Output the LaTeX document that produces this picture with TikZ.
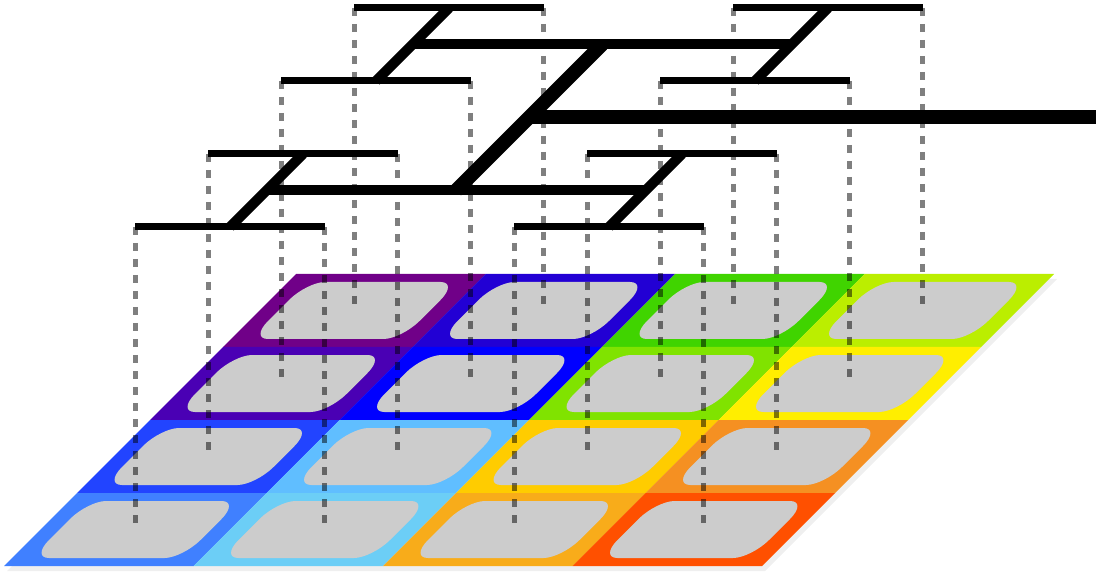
\documentclass[tikz,border=0pt]{standalone}
\usetikzlibrary{calc}
\definecolor{k00}{HTML}{700088}
\definecolor{k01}{HTML}{2200D4}
\definecolor{k02}{HTML}{40D400}
\definecolor{k03}{HTML}{BBEE00}
\definecolor{k10}{HTML}{4A00B4}
\definecolor{k11}{HTML}{0000FF}
\definecolor{k12}{HTML}{80E300}
\definecolor{k13}{HTML}{FFEE00}
\definecolor{k20}{HTML}{2244FF}
\definecolor{k21}{HTML}{60BEFF}
\definecolor{k22}{HTML}{FFCC00}
\definecolor{k23}{HTML}{F59022}
\definecolor{k30}{HTML}{4080FF}
\definecolor{k31}{HTML}{6CCEF6}
\definecolor{k32}{HTML}{F8AC1A}
\definecolor{k33}{HTML}{FF5000}
\definecolor{padgrey}{HTML}{CCCCCC}
\definecolor{shadowgrey}{HTML}{EFEFEF}
\begin{document}
\begin{tikzpicture}[x=1pt,y=-1pt,
  leafbar/.style={line width=7pt,line cap=butt},
  midbar/.style={line width=10pt,line cap=butt},
  rootbar/.style={line width=14pt,line cap=butt},
  guide/.style={draw=black,opacity=0.5,line width=5pt,dash pattern=on 8pt off 8pt},
  pad/.style={fill=padgrey,rounded corners=18pt}]
\useasboundingbox (0,0) rectangle (1096,572);
\coordinate (edge) at (1096,0);
% shadow
\begin{scope}[shift={(573,5)},xslant=1]
  \fill[shadowgrey] (0,274) -- (758,274) -- (758,566) -- (0,566) -- cycle;
\end{scope}
% cells
\begin{scope}[shift={(570,0)},xslant=1]
  \foreach \r in {0,...,3}{
    \foreach \c in {0,...,3}{
      \pgfmathsetmacro{\ua}{189.5*\c}
      \pgfmathsetmacro{\ub}{189.5*(\c+1)}
      \pgfmathsetmacro{\va}{274+73*\r}
      \pgfmathsetmacro{\vb}{274+73*(\r+1)}
      \fill[k\r\c] (\ua,\va) -- (\ub,\va) -- (\ub,\vb) -- (\ua,\vb) -- cycle;
      \coordinate (c\r\c) at (\ua+94.75,\va+36.5);
    }
  }
\end{scope}
% grey pads: rounded rectangles, sheared as a whole
\begin{scope}[transform canvas={cm={1,0,1,1,(570pt,0pt)}}]
  \foreach \r in {0,...,3}{
    \foreach \c in {0,...,3}{
      \pgfmathsetmacro{\ua}{189.5*\c}
      \pgfmathsetmacro{\ub}{189.5*(\c+1)}
      \pgfmathsetmacro{\va}{274+73*\r}
      \pgfmathsetmacro{\vb}{274+73*(\r+1)}
      \fill[pad] (\ua+19,\va+8) -- (\ub-19,\va+8) -- (\ub-19,\vb-8) -- (\ua+19,\vb-8) -- cycle;
    }
  }
\end{scope}
% bar end points above each cell centre
\foreach \r in {0,...,3}{
  \foreach \c in {0,...,3}{
    \coordinate (t\r\c) at ($(c\r\c)+(0,-302.5)$);
  }
}
% leaf bars
\foreach \r in {0,...,3}{
  \draw[leafbar] (t\r0) -- (t\r1);
  \draw[leafbar] (t\r2) -- (t\r3);
  \coordinate (m\r a) at ($(t\r0)!0.5!(t\r1)$);
  \coordinate (m\r b) at ($(t\r2)!0.5!(t\r3)$);
}
% second level
\draw[midbar] (m3a) -- (m2a);
\draw[midbar] (m3b) -- (m2b);
\draw[midbar] (m1a) -- (m0a);
\draw[midbar] (m1b) -- (m0b);
\coordinate (dLa) at ($(m3a)!0.5!(m2a)$);
\coordinate (dLb) at ($(m3b)!0.5!(m2b)$);
\coordinate (dHa) at ($(m1a)!0.5!(m0a)$);
\coordinate (dHb) at ($(m1b)!0.5!(m0b)$);
\draw[midbar] (dLa) -- (dLb);
\draw[midbar] (dHa) -- (dHb);
\coordinate (low) at ($(dLa)!0.5!(dLb)$);
\coordinate (high) at ($(dHa)!0.5!(dHb)$);
% root
\draw[rootbar] (low) -- (high);
\coordinate (rootmid) at ($(low)!0.5!(high)$);
\draw[rootbar] (rootmid) -- (rootmid -| edge);
% guides
\foreach \r in {0,...,3}{
  \foreach \c in {0,...,3}{
    \draw[guide] (t\r\c) -- (c\r\c);
  }
}
\end{tikzpicture}
\end{document}
